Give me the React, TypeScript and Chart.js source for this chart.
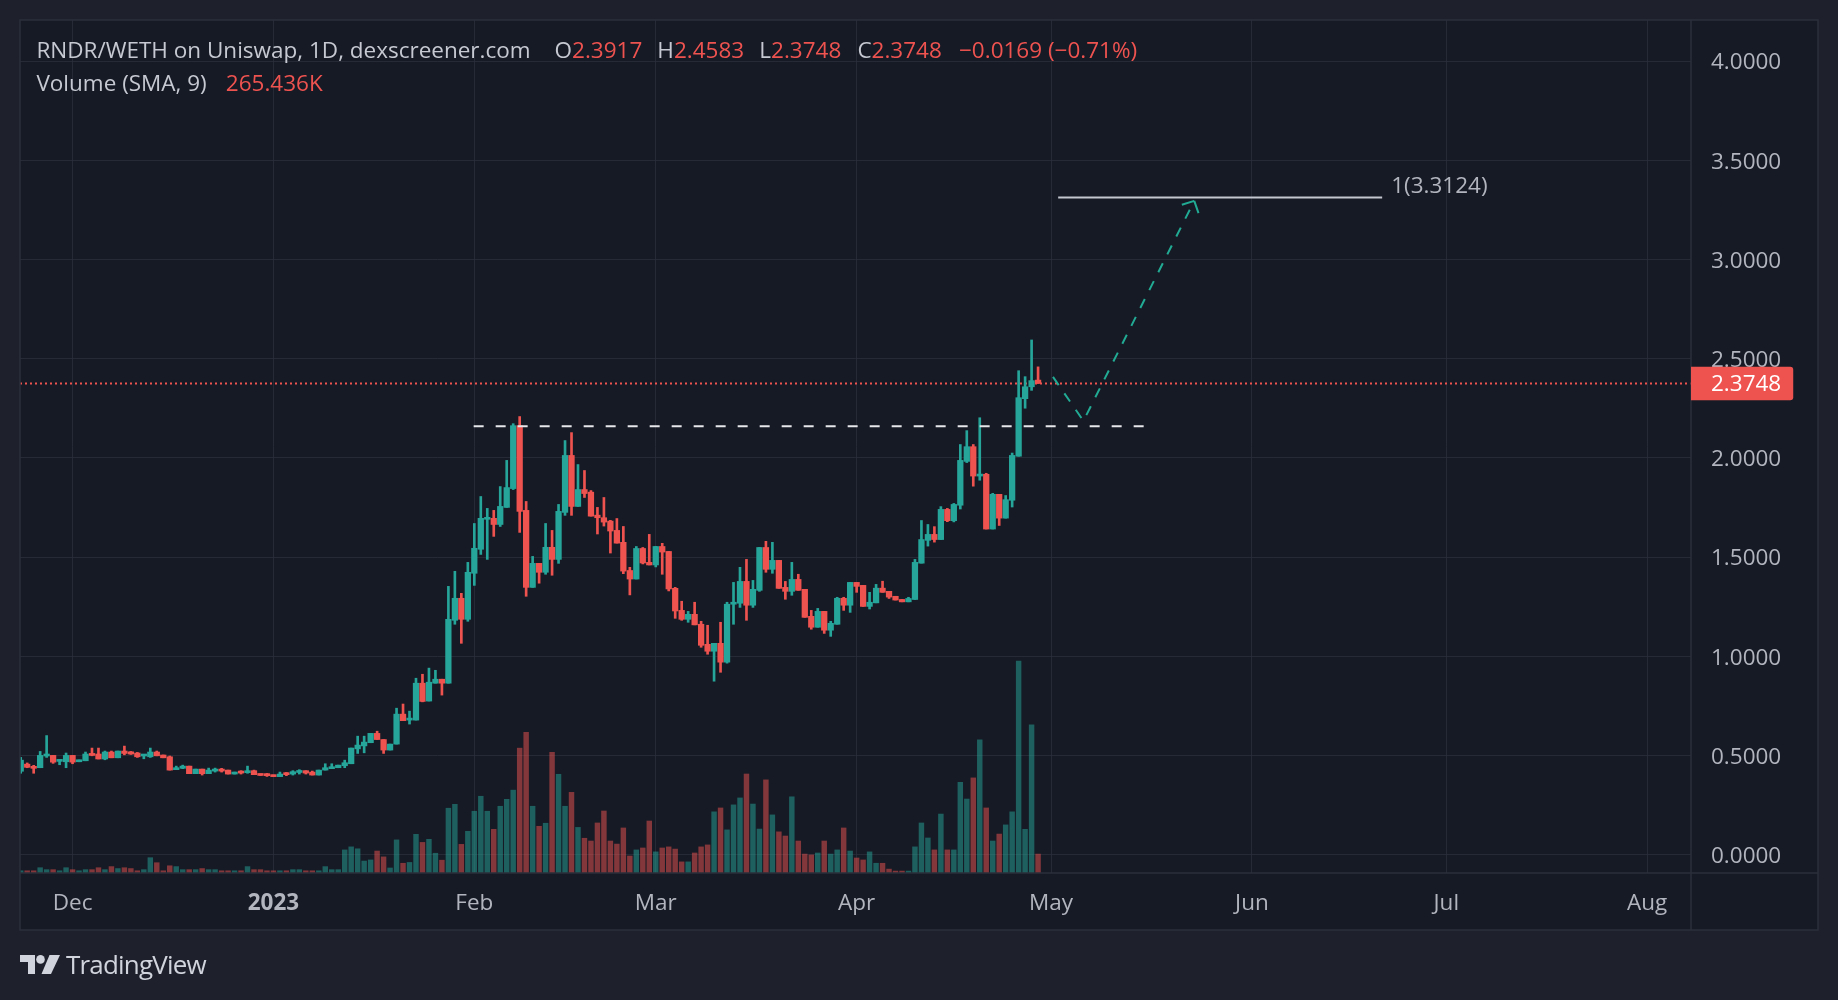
import React, { useEffect, useRef } from 'react';
import { Chart, registerables } from 'chart.js';

Chart.register(...registerables);

// ---------- data ----------
const START_DATE = '2022-11-23';

const opens = [
  0.42, 0.456, 0.44, 0.438, 0.497, 0.50, 0.47, 0.468, 0.50, 0.468,
  0.473, 0.507, 0.507, 0.482, 0.517, 0.488, 0.522, 0.518, 0.512, 0.497,
  0.493, 0.517, 0.502, 0.493, 0.428, 0.435, 0.446, 0.408, 0.431, 0.408,
  0.421, 0.43, 0.426, 0.406, 0.418, 0.413, 0.423, 0.406, 0.404, 0.401,
  0.393, 0.409, 0.406, 0.414, 0.423, 0.416, 0.401, 0.426, 0.433, 0.438,
  0.448, 0.458, 0.533, 0.548, 0.564, 0.611, 0.58, 0.527, 0.557, 0.708,
  0.678, 0.678, 0.864, 0.774, 0.864, 0.884, 0.864, 1.181, 1.292, 1.186,
  1.418, 1.539, 1.690, 1.695, 1.664, 1.75, 1.845, 2.162, 1.735, 1.347,
  1.468, 1.423, 1.549, 1.488, 1.725, 2.012, 1.755, 1.84, 1.827, 1.711,
  1.698, 1.681, 1.634, 1.574, 1.432, 1.389, 1.543, 1.473, 1.46, 1.553,
  1.528, 1.342, 1.231, 1.186, 1.211, 1.161, 1.06, 1.025, 1.065, 0.97,
  1.262, 1.267, 1.377, 1.257, 1.332, 1.548, 1.438, 1.483, 1.347, 1.327,
  1.387, 1.337, 1.201, 1.146, 1.226, 1.131, 1.161, 1.292, 1.257, 1.372,
  1.357, 1.251, 1.269, 1.343, 1.327, 1.302, 1.286, 1.274, 1.286, 1.469,
  1.584, 1.614, 1.588, 1.74, 1.683, 1.761, 1.982, 2.056, 1.908, 1.917,
  1.641, 1.816, 1.696, 1.786, 2.008, 2.298, 2.358, 2.3917,
];

const highs = [
  0.49, 0.462, 0.45, 0.52, 0.60, 0.50, 0.48, 0.512, 0.50, 0.477,
  0.517, 0.537, 0.537, 0.522, 0.522, 0.522, 0.547, 0.52, 0.515, 0.505,
  0.537, 0.522, 0.502, 0.497, 0.446, 0.451, 0.446, 0.431, 0.431, 0.436,
  0.436, 0.435, 0.426, 0.416, 0.423, 0.446, 0.426, 0.406, 0.409, 0.401,
  0.416, 0.414, 0.423, 0.428, 0.423, 0.421, 0.426, 0.458, 0.458, 0.451,
  0.476, 0.537, 0.597, 0.597, 0.611, 0.622, 0.58, 0.557, 0.738, 0.759,
  0.723, 0.889, 0.909, 0.94, 0.929, 0.884, 1.352, 1.428, 1.317, 1.473,
  1.669, 1.805, 1.745, 1.735, 1.855, 1.987, 2.172, 2.208, 1.78, 1.503,
  1.468, 1.669, 1.634, 1.765, 2.087, 2.127, 1.966, 1.936, 1.835, 1.75,
  1.80, 1.685, 1.694, 1.654, 1.448, 1.553, 1.548, 1.614, 1.553, 1.569,
  1.528, 1.347, 1.277, 1.226, 1.272, 1.176, 1.156, 1.065, 1.171, 1.272,
  1.372, 1.448, 1.488, 1.382, 1.548, 1.579, 1.574, 1.483, 1.377, 1.473,
  1.413, 1.337, 1.231, 1.241, 1.226, 1.176, 1.297, 1.297, 1.372, 1.372,
  1.357, 1.322, 1.362, 1.378, 1.327, 1.302, 1.286, 1.297, 1.488, 1.684,
  1.664, 1.653, 1.754, 1.745, 1.77, 2.067, 2.137, 2.067, 2.202, 1.922,
  1.821, 1.816, 1.81, 2.024, 2.439, 2.409, 2.594, 2.4583,
];

const lows = [
  0.41, 0.438, 0.41, 0.438, 0.49, 0.46, 0.453, 0.438, 0.458, 0.468,
  0.473, 0.498, 0.482, 0.478, 0.488, 0.488, 0.503, 0.505, 0.49, 0.483,
  0.49, 0.498, 0.488, 0.426, 0.428, 0.433, 0.408, 0.408, 0.401, 0.408,
  0.416, 0.416, 0.406, 0.406, 0.406, 0.41, 0.403, 0.399, 0.394, 0.393,
  0.393, 0.398, 0.401, 0.406, 0.406, 0.401, 0.401, 0.426, 0.433, 0.438,
  0.438, 0.458, 0.51, 0.513, 0.564, 0.58, 0.51, 0.527, 0.557, 0.675,
  0.658, 0.678, 0.77, 0.774, 0.864, 0.804, 0.864, 1.161, 1.065, 1.176,
  1.357, 1.513, 1.488, 1.604, 1.654, 1.75, 1.84, 1.624, 1.302, 1.347,
  1.368, 1.413, 1.408, 1.468, 1.71, 1.71, 1.755, 1.80, 1.706, 1.616,
  1.656, 1.52, 1.57, 1.416, 1.309, 1.389, 1.465, 1.46, 1.45, 1.413,
  1.329, 1.191, 1.181, 1.171, 1.158, 1.045, 1.01, 0.874, 0.919, 0.965,
  1.161, 1.246, 1.181, 1.246, 1.327, 1.423, 1.418, 1.342, 1.287, 1.307,
  1.332, 1.196, 1.136, 1.146, 1.115, 1.10, 1.161, 1.231, 1.221, 1.322,
  1.251, 1.238, 1.269, 1.322, 1.291, 1.283, 1.274, 1.274, 1.286, 1.469,
  1.555, 1.575, 1.588, 1.678, 1.677, 1.742, 1.976, 1.857, 1.887, 1.641,
  1.641, 1.659, 1.696, 1.752, 2.008, 2.25, 2.34, 2.3748,
];

const closes = [
  0.476, 0.44, 0.435, 0.50, 0.502, 0.466, 0.477, 0.50, 0.466, 0.476,
  0.507, 0.50, 0.482, 0.517, 0.488, 0.522, 0.51, 0.507, 0.493, 0.502,
  0.517, 0.498, 0.488, 0.426, 0.438, 0.446, 0.408, 0.431, 0.408, 0.426,
  0.426, 0.421, 0.406, 0.416, 0.411, 0.423, 0.403, 0.399, 0.398, 0.393,
  0.406, 0.403, 0.418, 0.423, 0.411, 0.401, 0.426, 0.438, 0.443, 0.451,
  0.463, 0.537, 0.552, 0.567, 0.611, 0.58, 0.527, 0.557, 0.708, 0.675,
  0.686, 0.864, 0.772, 0.869, 0.884, 0.864, 1.186, 1.292, 1.186, 1.423,
  1.544, 1.695, 1.697, 1.664, 1.755, 1.85, 2.162, 1.73, 1.347, 1.468,
  1.423, 1.549, 1.488, 1.73, 2.012, 1.755, 1.84, 1.82, 1.706, 1.698,
  1.676, 1.631, 1.57, 1.429, 1.389, 1.543, 1.47, 1.46, 1.553, 1.525,
  1.339, 1.228, 1.186, 1.211, 1.158, 1.055, 1.025, 1.065, 0.97, 1.262,
  1.272, 1.377, 1.257, 1.337, 1.548, 1.438, 1.483, 1.342, 1.327, 1.387,
  1.332, 1.196, 1.146, 1.226, 1.131, 1.166, 1.292, 1.257, 1.372, 1.352,
  1.251, 1.272, 1.343, 1.322, 1.298, 1.283, 1.274, 1.291, 1.473, 1.588,
  1.614, 1.588, 1.74, 1.683, 1.765, 1.987, 2.056, 1.908, 1.917, 1.641,
  1.816, 1.696, 1.789, 2.012, 2.303, 2.358, 2.389, 2.3748,
];

// volume in thousands
const volumesK = [
  8, 8, 8, 19, 12, 12, 8, 19, 12, 8,
  12, 12, 19, 12, 23, 16, 19, 16, 8, 12,
  55, 37, 8, 26, 23, 12, 12, 12, 16, 12,
  12, 8, 8, 8, 8, 23, 12, 12, 8, 8,
  8, 8, 12, 12, 8, 8, 8, 23, 12, 12,
  83, 94, 87, 43, 47, 79, 58, 18, 119, 35,
  38, 139, 110, 121, 71, 46, 233, 247, 103, 150,
  222, 276, 222, 157, 240, 265, 298, 449, 506, 240,
  168, 179, 434, 355, 240, 290, 164, 125, 115, 180,
  223, 115, 104, 162, 61, 83, 90, 187, 76, 90,
  94, 86, 40, 40, 72, 94, 101, 220, 234, 155,
  245, 270, 356, 248, 158, 335, 209, 148, 133, 274,
  115, 68, 65, 72, 115, 68, 83, 162, 79, 54,
  47, 76, 35, 35, 14, 7, 7, 7, 94, 180,
  126, 83, 212, 83, 83, 326, 266, 342, 479, 234,
  115, 140, 173, 220, 762, 157, 533, 68,
];

const monthTickDates = ['2022-12-01', '2023-01-01', '2023-02-01', '2023-03-01', '2023-04-01', '2023-05-01', '2023-06-01', '2023-07-01', '2023-08-01'];
const monthTickLabels = ['Dec', '2023', 'Feb', 'Mar', 'Apr', 'May', 'Jun', 'Jul', 'Aug'];
const priceTicks = [0, 0.5, 1, 1.5, 2, 2.5, 3, 3.5, 4];

// visible ranges (day index / price)
const xView = [-0.11, 257.76];
const yView = [-0.0927, 4.2067];

// annotations (x in day index from START_DATE)
const lastPrice = 2.3748;
const breakoutLevel = 2.159;
const breakoutSpan = [69.9, 173.5];
const targetLevel = 3.3124;
const targetSpan = [160.1, 210.1];
const projectionX = [159.3, 164.0, 181.1];
const projectionY = [2.408, 2.186, 3.295];

// header texts
const titleText = 'RNDR/WETH on Uniswap, 1D, dexscreener.com';
const ohlcLabels = ['O', 'H', 'L', 'C'];
const ohlcValues = ['2.3917', '2.4583', '2.3748', '2.3748'];
const changeText = '\u22120.0169 (\u22120.71%)';
const volumeLegend = 'Volume (SMA, 9)';
const volumeSmaText = '265.436K';

// ---------- styles ----------
const FONT = "'Open Sans', 'Noto Sans', sans-serif";
const OUTER_BG = '#1e212c';
const PANEL_BG = '#161a25';
const GRID = 'rgba(44,48,60,0.75)';
const SEP = '#2b2f3b';
const TEXT = '#b2b5be';
const HEADER_TEXT = '#c6c9d1';
const UP = '#26a69a';
const DOWN = '#ef5350';
const UP_VOL = 'rgba(38,166,154,0.5)';
const DOWN_VOL = 'rgba(239,83,80,0.5)';

const dayIndex = (d: string) => Math.round((Date.parse(d) - Date.parse(START_DATE)) / 86400000);
const monthTickIdx = monthTickDates.map(dayIndex);
const isUp = (i: number) => closes[i] >= opens[i];

const overlayPlugin = {
  id: 'tvOverlay',
  beforeDraw(chart: any) {
    const { ctx, chartArea: ca, scales } = chart;
    ctx.save();
    ctx.fillStyle = OUTER_BG;
    ctx.fillRect(0, 0, chart.width, chart.height);
    ctx.fillStyle = PANEL_BG;
    ctx.fillRect(ca.left, ca.top, scales.y.right - ca.left, scales.x.bottom - ca.top);
    ctx.restore();
  },
  beforeDatasetsDraw(chart: any) {
    const { ctx, chartArea: ca, scales } = chart;
    const py = scales.y.getPixelForValue(lastPrice);
    ctx.save();
    ctx.strokeStyle = DOWN;
    ctx.lineWidth = 2;
    ctx.setLineDash([2, 3]);
    ctx.beginPath();
    ctx.moveTo(ca.left, py);
    ctx.lineTo(ca.right, py);
    ctx.stroke();
    ctx.restore();
  },
  afterDatasetsDraw(chart: any) {
    const { ctx, chartArea: ca, scales } = chart;
    const x = scales.x;
    const y = scales.y;
    ctx.save();
    ctx.beginPath();
    ctx.rect(ca.left, ca.top, ca.right - ca.left, ca.bottom - ca.top);
    ctx.clip();

    // breakout dashed level
    const by = y.getPixelForValue(breakoutLevel);
    ctx.strokeStyle = '#e6e7eb';
    ctx.lineWidth = 2;
    ctx.setLineDash([10, 12]);
    ctx.beginPath();
    ctx.moveTo(x.getPixelForValue(breakoutSpan[0]), by);
    ctx.lineTo(x.getPixelForValue(breakoutSpan[1]), by);
    ctx.stroke();

    // target level
    const ty = y.getPixelForValue(targetLevel);
    const tx1 = x.getPixelForValue(targetSpan[1]);
    ctx.setLineDash([]);
    ctx.strokeStyle = '#c4c7cf';
    ctx.lineWidth = 2;
    ctx.beginPath();
    ctx.moveTo(x.getPixelForValue(targetSpan[0]), ty);
    ctx.lineTo(tx1, ty);
    ctx.stroke();
    ctx.fillStyle = TEXT;
    ctx.font = `22.5px ${FONT}`;
    ctx.textAlign = 'left';
    ctx.textBaseline = 'alphabetic';
    ctx.fillText(`1(${targetLevel.toFixed(4)})`, tx1 + 9, ty - 4.5);

    // projection path
    const pts = projectionX.map((v, i) => [x.getPixelForValue(v), y.getPixelForValue(projectionY[i])]);
    ctx.strokeStyle = '#22ab94';
    ctx.lineWidth = 2;
    ctx.setLineDash([10, 10]);
    ctx.beginPath();
    pts.forEach((p, i) => (i === 0 ? ctx.moveTo(p[0], p[1]) : ctx.lineTo(p[0], p[1])));
    ctx.stroke();
    const tip = pts[pts.length - 1];
    const prev = pts[pts.length - 2];
    const ang = Math.atan2(tip[1] - prev[1], tip[0] - prev[0]) + Math.PI;
    ctx.setLineDash([]);
    ctx.beginPath();
    [-0.8, 0.8].forEach((d) => {
      ctx.moveTo(tip[0], tip[1]);
      ctx.lineTo(tip[0] + 13 * Math.cos(ang + d), tip[1] + 13 * Math.sin(ang + d));
    });
    ctx.stroke();
    ctx.restore();
  },
  afterDraw(chart: any) {
    const { ctx, chartArea: ca, scales } = chart;
    const right = scales.y.right;
    const bottom = scales.x.bottom;
    ctx.save();
    ctx.strokeStyle = SEP;
    ctx.lineWidth = 1.5;
    ctx.beginPath();
    ctx.moveTo(ca.right, ca.top);
    ctx.lineTo(ca.right, bottom);
    ctx.moveTo(ca.left, ca.bottom);
    ctx.lineTo(right, ca.bottom);
    ctx.stroke();
    ctx.strokeRect(ca.left, ca.top, right - ca.left, bottom - ca.top);

    // last price label
    const py = scales.y.getPixelForValue(lastPrice);
    const text = lastPrice.toFixed(4);
    ctx.font = `22.5px ${FONT}`;
    const w = 20 + ctx.measureText(text).width + 12;
    ctx.fillStyle = DOWN;
    ctx.beginPath();
    (ctx as any).roundRect(ca.right, py - 16.7, w, 33.4, [0, 3, 3, 0]);
    ctx.fill();
    ctx.fillStyle = '#ffffff';
    ctx.textAlign = 'left';
    ctx.textBaseline = 'middle';
    ctx.fillText(text, ca.right + 20, py + 1.5);
    ctx.restore();
  },
};

export default function App() {
  const canvasRef = useRef<HTMLCanvasElement>(null);

  useEffect(() => {
    const idx = closes.map((_, i) => i);
    const volMax = Math.max(...volumesK) / 0.2484;
    const chart = new Chart(canvasRef.current as HTMLCanvasElement, {
      type: 'bar',
      data: {
        datasets: [
          {
            label: 'Volume',
            data: idx.map((i) => ({ x: i, y: volumesK[i] })) as any,
            yAxisID: 'yVol',
            backgroundColor: idx.map((i) => (isUp(i) ? UP_VOL : DOWN_VOL)),
            barThickness: 4.8,
            grouped: false,
            borderWidth: 0,
            order: 3,
          },
          {
            label: 'Wicks',
            data: idx.map((i) => ({ x: i, y: [lows[i], highs[i]] })) as any,
            yAxisID: 'y',
            backgroundColor: idx.map((i) => (isUp(i) ? UP : DOWN)),
            barThickness: 2,
            grouped: false,
            borderWidth: 0,
            order: 2,
          },
          {
            label: 'Bodies',
            data: idx.map((i) => ({ x: i, y: [opens[i], closes[i]] })) as any,
            yAxisID: 'y',
            backgroundColor: idx.map((i) => (isUp(i) ? UP : DOWN)),
            barThickness: 5.6,
            minBarLength: 2,
            grouped: false,
            borderWidth: 0,
            order: 1,
          },
        ],
      },
      options: {
        responsive: false,
        animation: false,
        events: [],
        layout: { padding: { left: 20, top: 20, right: 20, bottom: 70 } },
        plugins: { legend: { display: false }, tooltip: { enabled: false } },
        scales: {
          x: {
            type: 'linear',
            min: xView[0],
            max: xView[1],
            offset: false,
            grid: { color: GRID, drawTicks: false, offset: false, lineWidth: 1 },
            border: { display: false },
            ticks: {
              autoSkip: false,
              maxRotation: 0,
              padding: 17,
              color: TEXT,
              font: (c: any) => ({
                family: FONT,
                size: 22.5,
                weight: c.tick && c.tick.label === '2023' ? 'bold' : 'normal',
              }),
              callback: (_v: any, i: number) => monthTickLabels[i],
            },
            afterBuildTicks: (s: any) => {
              s.ticks = monthTickIdx.map((v) => ({ value: v }));
            },
            afterFit: (s: any) => {
              s.height = 57;
              s.paddingLeft = 0;
              s.paddingRight = 0;
              s.paddingTop = 0;
              s.paddingBottom = 0;
            },
          },
          y: {
            type: 'linear',
            position: 'right',
            min: yView[0],
            max: yView[1],
            grid: { color: GRID, drawTicks: false, lineWidth: 1 },
            border: { display: false },
            ticks: {
              padding: 20,
              labelOffset: 2,
              color: TEXT,
              font: { family: FONT, size: 22.5 },
              callback: (v: any) => Number(v).toFixed(4),
            },
            afterBuildTicks: (s: any) => {
              s.ticks = priceTicks.map((v) => ({ value: v }));
            },
            afterFit: (s: any) => {
              s.width = 127;
              s.paddingTop = 0;
              s.paddingBottom = 0;
              s.paddingLeft = 0;
              s.paddingRight = 0;
            },
          },
          yVol: {
            type: 'linear',
            display: false,
            min: 0,
            max: volMax,
          },
        },
      } as any,
      plugins: [overlayPlugin],
    });
    return () => chart.destroy();
  }, []);

  const textBase: React.CSSProperties = {
    position: 'absolute',
    fontFamily: FONT,
    fontSize: 22.5,
    lineHeight: '22.5px',
    whiteSpace: 'pre',
    color: HEADER_TEXT,
  };
  const ohlcX = [554.5, 657.3, 759.3, 857.4];

  return (
    <div
      style={{
        position: 'fixed',
        left: 0,
        top: 0,
        width: 1838,
        height: 1000,
        background: OUTER_BG,
        overflow: 'hidden',
      }}
    >
      <canvas ref={canvasRef} width={1838} height={1000} style={{ position: 'absolute', left: 0, top: 0, width: 1838, height: 1000 }} />
      <span style={{ ...textBase, left: 36.4, top: 38.7 }}>{titleText}</span>
      {ohlcLabels.map((l, i) => (
        <span key={l} style={{ ...textBase, left: ohlcX[i], top: 38.7 }}>
          {l}
          <span style={{ color: DOWN }}>{ohlcValues[i]}</span>
        </span>
      ))}
      <span style={{ ...textBase, left: 959, top: 38.7, color: DOWN }}>{changeText}</span>
      <span style={{ ...textBase, left: 36.4, top: 71.7 }}>{volumeLegend}</span>
      <span style={{ ...textBase, left: 225.8, top: 71.7, color: DOWN }}>{volumeSmaText}</span>
      <div style={{ position: 'absolute', left: 19.6, top: 954.5, width: 40, height: 19 }}>
        <svg width="40" height="19" viewBox="0 0 40 19">
          <path d="M0 0 H15 V19 H8 V7 H0 Z" fill="#d1d4dc" />
          <circle cx="20.5" cy="4.4" r="4.3" fill="#d1d4dc" />
          <path d="M29.5 0 H40 L31 19 H21.5 Z" fill="#d1d4dc" />
        </svg>
      </div>
      <span
        style={{
          position: 'absolute',
          left: 66,
          top: 951,
          fontFamily: FONT,
          fontSize: 26,
          lineHeight: '26px',
          letterSpacing: -0.8,
          whiteSpace: 'pre',
          color: '#d1d4dc',
        }}
      >
        TradingView
      </span>
    </div>
  );
}
